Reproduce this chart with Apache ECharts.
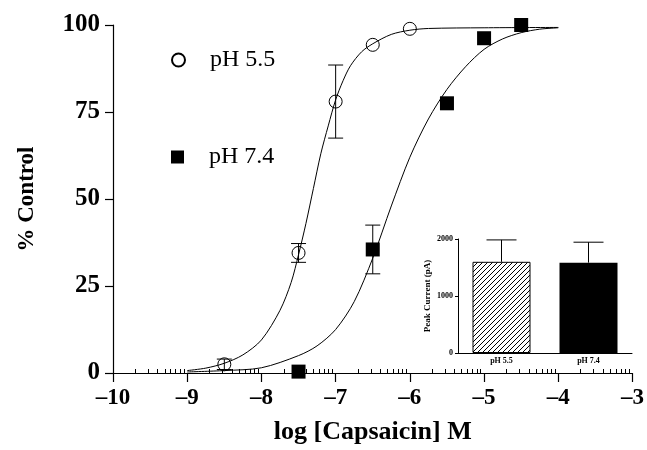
<!DOCTYPE html>
<html>
<head>
<meta charset="utf-8">
<script src="https://cdn.jsdelivr.net/npm/echarts@6/dist/echarts.min.js"></script>
<style>
  html, body { margin: 0; padding: 0; background: #fff; }
  #chart { width: 647px; height: 450px; }
</style>
</head>
<body>
<div id="chart"></div>
<script>
// concentration-response points (log M, % control, sem)
const dose55 = [-8.5, -7.5, -7, -6.5, -6];
const resp55 = [2.5, 34.5, 78, 94.3, 98.9];
const sem55 = [1.5, 2.7, 10.5, 0, 0];

const dose74 = [-7.5, -6.5, -5.5, -5, -4.5];
const resp74 = [0.4, 35.5, 77.5, 96.2, 100];
const sem74 = [0, 7, 0, 0, 0];

// fitted curves
const fitX55 = [-9, -8.75, -8.5, -8.25, -8, -7.75, -7.6, -7.5, -7.4, -7.3, -7.2, -7.1, -7, -6.9, -6.8, -6.65, -6.5, -6.25, -6, -5.75, -5, -4];
const fitY55 = [0.7, 1.4, 2.8, 5.2, 9.5, 18, 26, 34, 43, 53, 63, 71, 78.5, 84, 88.3, 92.3, 94.6, 97.3, 98.5, 99, 99.2, 99.3];

const fitX74 = [-9, -8.5, -8, -7.5, -7.25, -7, -6.75, -6.5, -6.25, -6, -5.75, -5.5, -5.25, -5, -4.75, -4.5, -4.25, -4];
const fitY74 = [0.3, 0.7, 1.5, 5, 7.8, 12.5, 20.5, 33, 48, 62, 73, 81.5, 88, 93, 96, 97.8, 98.8, 99.2];

// inset: peak current
const insetCats = ["pH 5.5", "pH 7.4"];
const peakCurrent = [1600, 1585];
const peakErr = [384, 359];

// minor ticks of the log concentration axis
const decades = [-10, -9, -8, -7, -6, -5, -4];
const minorTicks = [];
decades.forEach(function (d) {
  for (let k = 2; k <= 9; k++) minorTicks.push(d + Math.log10(k));
});

const serif = "Liberation Serif";
const zip = (a, b) => a.map((v, i) => [v, b[i]]);
const withErr = (xs, ys, es) =>
  xs.map((v, i) => [v, ys[i], es[i]]).filter((d) => d[2] > 0);

const hatch = document.createElement("canvas");
hatch.width = hatch.height = 5;
const hc = hatch.getContext("2d");
hc.fillStyle = "#fff";
hc.fillRect(0, 0, 5, 5);
hc.strokeStyle = "#000";
hc.lineWidth = 1;
hc.beginPath();
hc.moveTo(-1, 6);
hc.lineTo(6, -1);
hc.stroke();

function errorBar(capHalf, bothSides) {
  return function (params, api) {
    const x = api.value(0), y = api.value(1), e = api.value(2);
    const hi = api.coord([x, y + e]);
    const lo = api.coord([x, bothSides ? y - e : y]);
    const style = { stroke: "#000", lineWidth: 1, fill: null };
    const kids = [
      { type: "line", shape: { x1: hi[0], y1: hi[1], x2: lo[0], y2: lo[1] }, style: style },
      { type: "line", shape: { x1: hi[0] - capHalf, y1: hi[1], x2: hi[0] + capHalf, y2: hi[1] }, style: style }
    ];
    if (bothSides) {
      kids.push({ type: "line", shape: { x1: lo[0] - capHalf, y1: lo[1], x2: lo[0] + capHalf, y2: lo[1] }, style: style });
    }
    return { type: "group", children: kids };
  };
}

const legendText = { fontFamily: serif, fontSize: 24, color: "#000", padding: [0, 0, 0, 20] };

const option = {
  animation: false,
  backgroundColor: "#fff",
  legend: [
    { data: ["pH 5.5"], left: 171, top: 48, padding: 0, itemWidth: 13, itemHeight: 13, selectedMode: false, textStyle: legendText },
    { data: ["pH 7.4"], left: 171, top: 145, padding: 0, itemWidth: 13, itemHeight: 13, selectedMode: false, textStyle: legendText }
  ],
  grid: [
    { left: 113, right: 9, top: 25, bottom: 77 },
    { left: 458, top: 239, width: 174, height: 114 }
  ],
  xAxis: [
    {
      type: "value", gridIndex: 0, min: -10, max: -3, interval: 1,
      name: "log [Capsaicin] M", nameLocation: "middle", nameGap: 46,
      nameTextStyle: { fontFamily: serif, fontWeight: "bold", fontSize: 26, color: "#000" },
      axisLine: { onZero: false, lineStyle: { color: "#000", width: 1.2 } },
      axisTick: { inside: false, length: 9, lineStyle: { color: "#000", width: 1.2 } },
      axisLabel: {
        margin: 14, fontFamily: serif, fontWeight: "bold", fontSize: 23, color: "#000",
        formatter: (v) => String(v).replace("-", "\u2013")
      },
      splitLine: { show: false }
    },
    {
      type: "value", gridIndex: 0, min: -10, max: -3,
      axisLine: { show: false },
      axisTick: { show: true, length: 4, customValues: minorTicks, lineStyle: { color: "#000", width: 1 } },
      axisLabel: { show: false },
      splitLine: { show: false }
    },
    {
      type: "category", gridIndex: 1, data: insetCats,
      axisLine: { lineStyle: { color: "#000", width: 1 } },
      axisTick: { show: false },
      axisLabel: { margin: 4, fontFamily: serif, fontWeight: "bold", fontSize: 8, color: "#000" }
    }
  ],
  yAxis: [
    {
      type: "value", gridIndex: 0, min: 0, max: 100, interval: 25,
      name: "% Control", nameLocation: "middle", nameGap: 74,
      nameTextStyle: { fontFamily: serif, fontWeight: "bold", fontSize: 23, color: "#000" },
      axisLine: { show: true, onZero: false, lineStyle: { color: "#000", width: 1.2 } },
      axisTick: { show: true, length: 8, lineStyle: { color: "#000", width: 1.2 } },
      axisLabel: { margin: 13, fontFamily: serif, fontWeight: "bold", fontSize: 25, color: "#000" },
      splitLine: { show: false }
    },
    {
      type: "value", gridIndex: 1, min: 0, max: 2000, interval: 1000,
      name: "Peak Current (pA)", nameLocation: "middle", nameGap: 26,
      nameTextStyle: { fontFamily: serif, fontWeight: "bold", fontSize: 9, color: "#000" },
      axisLine: { show: true, lineStyle: { color: "#000", width: 1 } },
      axisTick: { show: true, length: 3, lineStyle: { color: "#000" } },
      axisLabel: { margin: 5, fontFamily: serif, fontWeight: "bold", fontSize: 8, color: "#000", formatter: (v) => String(v) },
      splitLine: { show: false }
    }
  ],
  series: [
    {
      type: "line", name: "fit 5.5", xAxisIndex: 0, yAxisIndex: 0,
      data: zip(fitX55, fitY55), symbol: "none", smooth: 0.3,
      lineStyle: { color: "#000", width: 1 }, z: 2
    },
    {
      type: "line", name: "fit 7.4", xAxisIndex: 0, yAxisIndex: 0,
      data: zip(fitX74, fitY74), symbol: "none", smooth: 0.3,
      lineStyle: { color: "#000", width: 1 }, z: 2
    },
    {
      type: "custom", name: "err 5.5", xAxisIndex: 0, yAxisIndex: 0,
      renderItem: errorBar(7.5, true), data: withErr(dose55, resp55, sem55),
      encode: { x: 0, y: 1 }, z: 3
    },
    {
      type: "custom", name: "err 7.4", xAxisIndex: 0, yAxisIndex: 0,
      renderItem: errorBar(7.5, true), data: withErr(dose74, resp74, sem74),
      encode: { x: 0, y: 1 }, z: 3
    },
    {
      type: "scatter", name: "pH 5.5", xAxisIndex: 0, yAxisIndex: 0,
      data: zip(dose55, resp55), symbol: "circle", symbolSize: 13,
      itemStyle: { color: "rgba(255,255,255,0)", borderColor: "#000", borderWidth: 1, opacity: 1 }, z: 4
    },
    {
      type: "scatter", name: "pH 7.4", xAxisIndex: 0, yAxisIndex: 0,
      data: zip(dose74, resp74), symbol: "rect", symbolSize: 14,
      itemStyle: { color: "#000", opacity: 1 }, z: 4
    },
    {
      type: "bar", name: "peak", xAxisIndex: 2, yAxisIndex: 1, barWidth: 58,
      data: [
        { value: peakCurrent[0], itemStyle: { color: { image: hatch, repeat: "repeat" }, borderColor: "#000", borderWidth: 1 } },
        { value: peakCurrent[1], itemStyle: { color: "#000" } }
      ]
    },
    {
      type: "custom", name: "peak err", xAxisIndex: 2, yAxisIndex: 1,
      renderItem: errorBar(15, false),
      data: insetCats.map((c, i) => [i, peakCurrent[i], peakErr[i]]),
      encode: { x: 0, y: 1 }, z: 3
    }
  ]
};

const chart = echarts.init(document.getElementById("chart"));
chart.setOption(option);
</script>
</body>
</html>
